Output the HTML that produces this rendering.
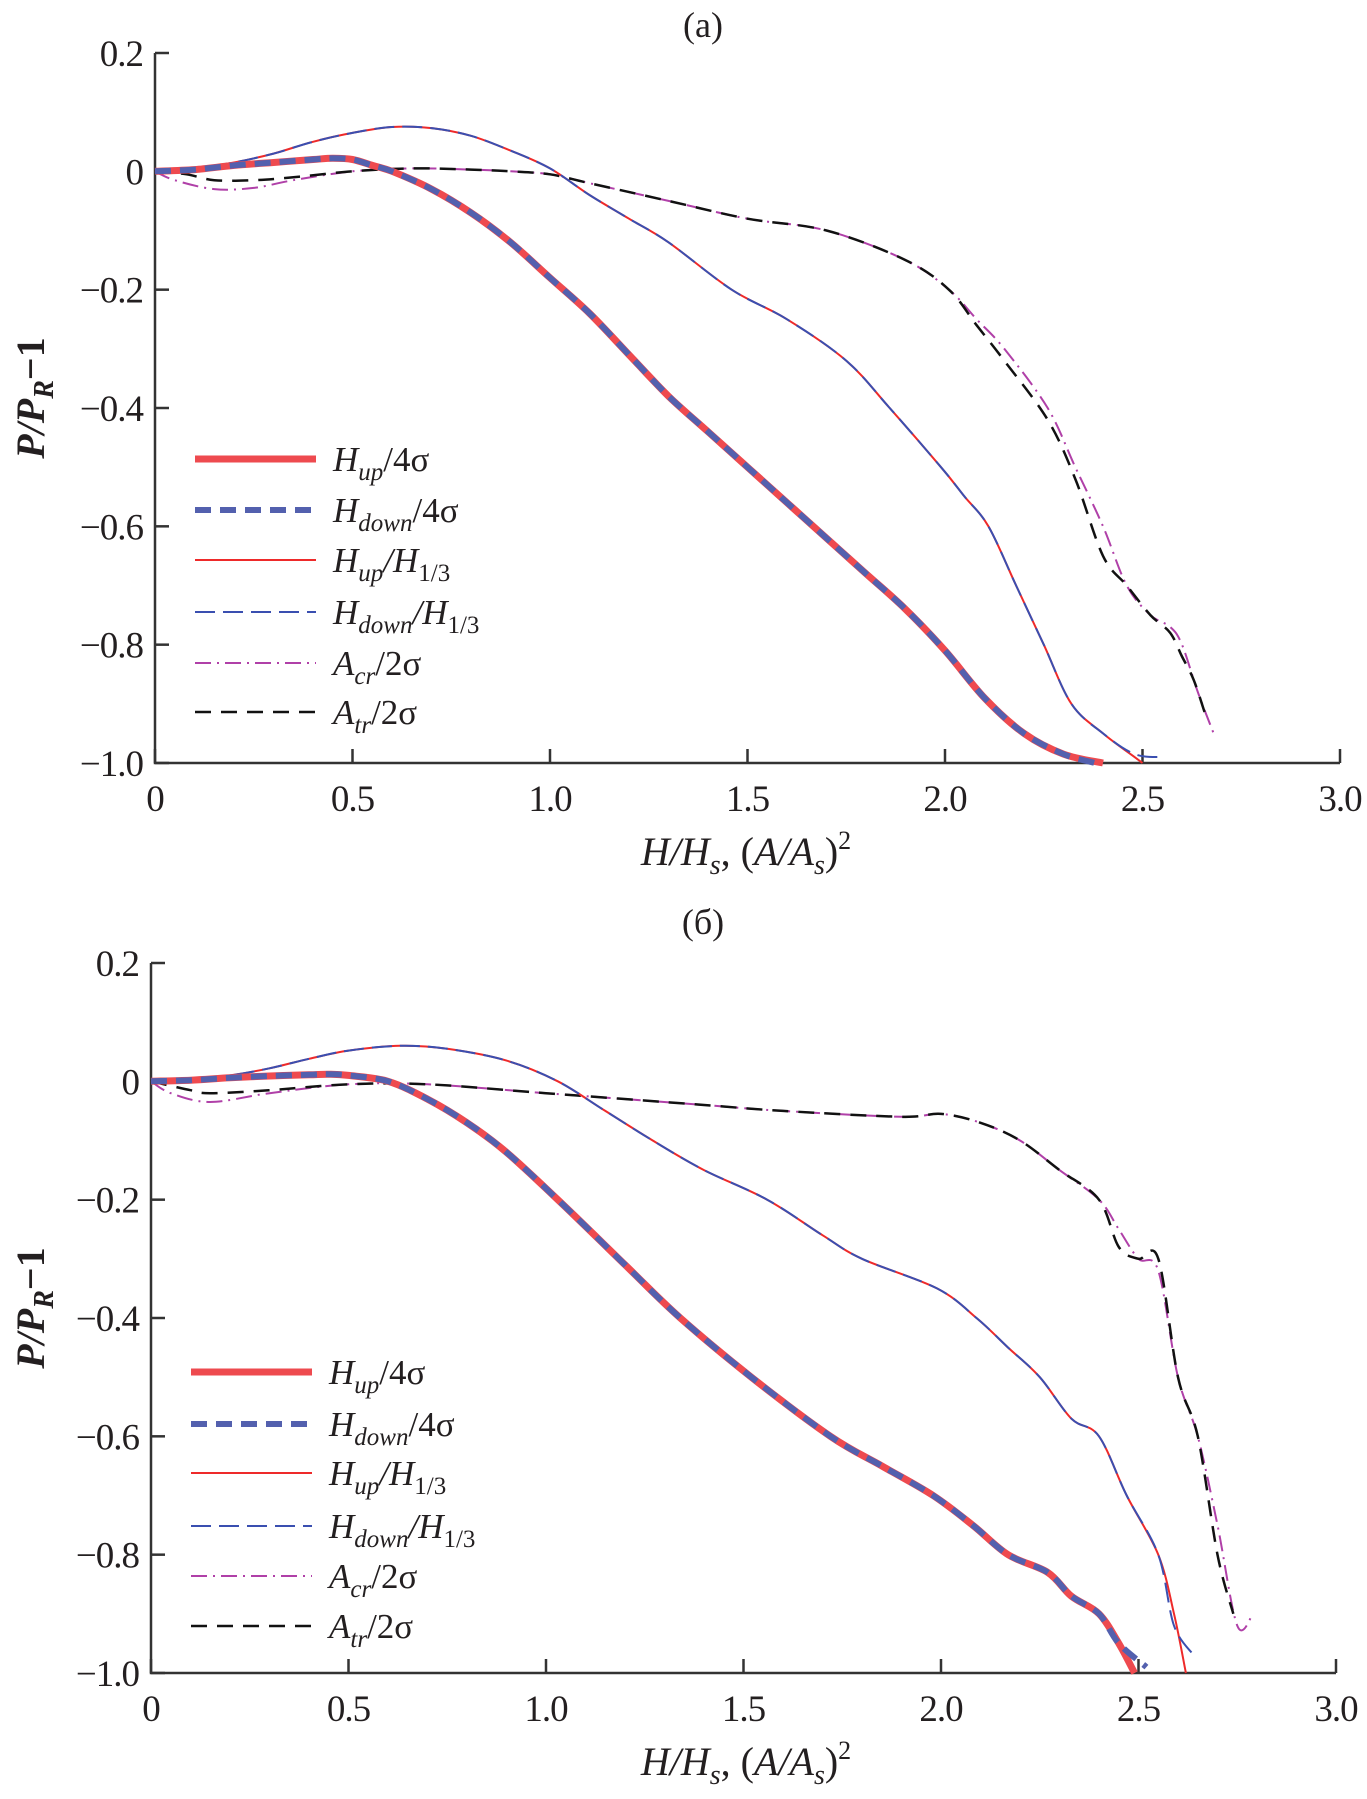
<!DOCTYPE html>
<html><head><meta charset="utf-8"><style>
html,body{margin:0;padding:0;background:#fff;}
svg{display:block;}
text{font-family:"Liberation Serif",serif;fill:#231f20;}
</style></head><body>
<svg id="fig" width="1367" height="1799" viewBox="0 0 1367 1799" xmlns="http://www.w3.org/2000/svg"></svg>
<script>
// ---- Panel (a) data ----
const xTicks = [0,0.5,1.0,1.5,2.0,2.5,3.0];
const xTickLabels = ["0","0.5","1.0","1.5","2.0","2.5","3.0"];
const yTicks = [0.2,0,-0.2,-0.4,-0.6,-0.8,-1.0];
const yTickLabels = ["0.2","0","\u22120.2","\u22120.4","\u22120.6","\u22120.8","\u22121.0"];

const aUp4X   = [0,0.1,0.2,0.3,0.4,0.45,0.5,0.55,0.6,0.7,0.8,0.9,1.0,1.1,1.2,1.3,1.4,1.5,1.6,1.7,1.8,1.9,2.0,2.1,2.2,2.3,2.4];
const aUp4Y   = [0,0.003,0.01,0.015,0.02,0.022,0.02,0.01,0,-0.03,-0.07,-0.12,-0.18,-0.24,-0.31,-0.38,-0.44,-0.5,-0.56,-0.62,-0.68,-0.74,-0.81,-0.89,-0.95,-0.985,-1.0];
const aDown4X = [0,0.1,0.2,0.3,0.4,0.45,0.5,0.55,0.6,0.7,0.8,0.9,1.0,1.1,1.2,1.3,1.4,1.5,1.6,1.7,1.8,1.9,2.0,2.1,2.2,2.3,2.38];
const aDown4Y = [0,0.003,0.01,0.015,0.02,0.022,0.02,0.01,0,-0.03,-0.07,-0.12,-0.18,-0.24,-0.31,-0.38,-0.44,-0.5,-0.56,-0.62,-0.68,-0.74,-0.81,-0.89,-0.95,-0.985,-1.0];
const aUp13X  = [0,0.1,0.2,0.3,0.4,0.5,0.6,0.7,0.8,0.9,1.0,1.1,1.2,1.3,1.46,1.6,1.75,1.86,1.99,2.05,2.11,2.18,2.25,2.32,2.4,2.48,2.5];
const aUp13Y  = [0,0.005,0.015,0.03,0.05,0.065,0.075,0.073,0.06,0.035,0.005,-0.04,-0.08,-0.12,-0.2,-0.25,-0.32,-0.4,-0.5,-0.55,-0.6,-0.7,-0.8,-0.9,-0.95,-0.99,-1.0];
const aDown13X= [0,0.1,0.2,0.3,0.4,0.5,0.6,0.7,0.8,0.9,1.0,1.1,1.2,1.3,1.46,1.6,1.75,1.86,1.99,2.05,2.11,2.18,2.25,2.32,2.4,2.48,2.55];
const aDown13Y= [0,0.005,0.015,0.03,0.05,0.065,0.075,0.073,0.06,0.035,0.005,-0.04,-0.08,-0.12,-0.2,-0.25,-0.32,-0.4,-0.5,-0.55,-0.6,-0.7,-0.8,-0.9,-0.95,-0.985,-0.99];
const aCrX = [0,0.05,0.15,0.25,0.35,0.5,0.65,0.8,0.9,1.0,1.1,1.3,1.5,1.7,1.9,2.01,2.08,2.15,2.26,2.33,2.4,2.46,2.52,2.57,2.6,2.64,2.68];
const aCrY = [0,-0.015,-0.03,-0.028,-0.015,0,0.005,0.003,0,-0.005,-0.02,-0.05,-0.08,-0.1,-0.15,-0.2,-0.25,-0.3,-0.4,-0.5,-0.6,-0.7,-0.75,-0.77,-0.8,-0.88,-0.95];
const aTrX = [0,0.08,0.15,0.25,0.35,0.5,0.65,0.8,0.9,1.0,1.1,1.3,1.5,1.7,1.9,2.01,2.08,2.15,2.26,2.33,2.4,2.46,2.52,2.57,2.6,2.63,2.66];
const aTrY = [0,-0.005,-0.015,-0.015,-0.01,0,0.005,0.003,0,-0.005,-0.02,-0.05,-0.08,-0.1,-0.15,-0.2,-0.26,-0.32,-0.42,-0.52,-0.65,-0.7,-0.75,-0.78,-0.82,-0.86,-0.92];

// ---- Panel (б) data ----
const bUp4X   = [0,0.1,0.2,0.3,0.4,0.45,0.5,0.6,0.7,0.8,0.9,1.03,1.2,1.34,1.52,1.72,1.85,1.98,2.08,2.17,2.27,2.33,2.4,2.45,2.49];
const bUp4Y   = [0,0.002,0.006,0.009,0.011,0.012,0.01,0,-0.03,-0.07,-0.12,-0.2,-0.31,-0.4,-0.5,-0.6,-0.65,-0.7,-0.75,-0.8,-0.83,-0.87,-0.9,-0.95,-1.0];
const bDown4X = [0,0.1,0.2,0.3,0.4,0.45,0.5,0.6,0.7,0.8,0.9,1.03,1.2,1.34,1.52,1.72,1.85,1.98,2.08,2.17,2.27,2.33,2.4,2.45,2.52];
const bDown4Y = [0,0.002,0.006,0.009,0.011,0.012,0.01,0,-0.03,-0.07,-0.12,-0.2,-0.31,-0.4,-0.5,-0.6,-0.65,-0.7,-0.75,-0.8,-0.83,-0.87,-0.9,-0.95,-0.99];
const bUp13X  = [0,0.1,0.2,0.3,0.4,0.5,0.63,0.75,0.9,1.03,1.15,1.27,1.4,1.56,1.7,1.8,1.99,2.09,2.17,2.25,2.33,2.4,2.47,2.55,2.59,2.62];
const bUp13Y  = [0,0.003,0.01,0.022,0.038,0.052,0.06,0.055,0.035,0,-0.05,-0.1,-0.15,-0.2,-0.26,-0.3,-0.35,-0.4,-0.45,-0.5,-0.57,-0.6,-0.7,-0.8,-0.9,-1.0];
const bDown13X= [0,0.1,0.2,0.3,0.4,0.5,0.63,0.75,0.9,1.03,1.15,1.27,1.4,1.56,1.7,1.8,1.99,2.09,2.17,2.25,2.33,2.4,2.47,2.55,2.59,2.64];
const bDown13Y= [0,0.003,0.01,0.022,0.038,0.052,0.06,0.055,0.035,0,-0.05,-0.1,-0.15,-0.2,-0.26,-0.3,-0.35,-0.4,-0.45,-0.5,-0.57,-0.6,-0.7,-0.8,-0.92,-0.97];
const bCrX = [0,0.05,0.15,0.3,0.5,0.7,1.0,1.4,1.6,1.9,2.0,2.1,2.2,2.3,2.4,2.45,2.5,2.55,2.6,2.65,2.7,2.75,2.79];
const bCrY = [0,-0.02,-0.035,-0.02,-0.005,-0.005,-0.02,-0.04,-0.05,-0.06,-0.055,-0.07,-0.1,-0.15,-0.2,-0.25,-0.3,-0.32,-0.5,-0.6,-0.75,-0.92,-0.9];
const bTrX = [0,0.1,0.15,0.3,0.5,0.7,1.0,1.4,1.6,1.9,2.0,2.1,2.2,2.3,2.4,2.45,2.5,2.55,2.6,2.65,2.7,2.74];
const bTrY = [0,-0.015,-0.02,-0.015,-0.005,-0.005,-0.02,-0.04,-0.05,-0.06,-0.055,-0.07,-0.1,-0.15,-0.2,-0.28,-0.3,-0.3,-0.5,-0.6,-0.8,-0.9];

const NS = "http://www.w3.org/2000/svg";
const svg = document.getElementById('fig');
function el(tag, attrs, parent){
  const e = document.createElementNS(NS, tag);
  for (const k in attrs) e.setAttribute(k, attrs[k]);
  (parent||svg).appendChild(e);
  return e;
}
function smoothPath(pts){
  let d = 'M' + pts[0][0].toFixed(1) + ',' + pts[0][1].toFixed(1);
  for (let i = 0; i < pts.length - 1; i++) {
    const p0 = pts[Math.max(0, i-1)], p1 = pts[i], p2 = pts[i+1], p3 = pts[Math.min(pts.length-1, i+2)];
    const c1x = p1[0] + (p2[0]-p0[0])/6, c1y = p1[1] + (p2[1]-p0[1])/6;
    const c2x = p2[0] - (p3[0]-p1[0])/6, c2y = p2[1] - (p3[1]-p1[1])/6;
    d += 'C' + c1x.toFixed(1) + ',' + c1y.toFixed(1) + ' ' + c2x.toFixed(1) + ',' + c2y.toFixed(1) + ' ' + p2[0].toFixed(1) + ',' + p2[1].toFixed(1);
  }
  return d;
}

function panel(cfg){
  const g = el('g', {});
  
  
  const sx = v => cfg.x0 + (v - 0) / 3.0 * (cfg.x1 - cfg.x0);
  const sy = v => cfg.yTop + (0.2 - v) / 1.2 * (cfg.yBot - cfg.yTop);

  const t = el('text', {x: 703, y: cfg.titleY, 'font-size': 36, 'text-anchor': 'middle'}, g);
  t.textContent = cfg.title;
  
  

  const ax = el('path', {d: `M${cfg.x0},${cfg.yTop} L${cfg.x0},${cfg.yBot} L${cfg.x1},${cfg.yBot}`, fill: 'none', stroke: '#333', 'stroke-width': 2.5}, g);
  
  

  for (let i = 0; i < yTicks.length; i++) {
    const y = sy(yTicks[i]);
    el('line', {x1: cfg.x0, x2: cfg.x0 + 14, y1: y, y2: y, stroke: '#333', 'stroke-width': 2.5}, g);
    const tl = el('text', {x: cfg.x0 - 12, y: y + 13, 'font-size': 37, 'text-anchor': 'end', 'letter-spacing': '-1'}, g);
    tl.textContent = yTickLabels[i];
    
    
  }
  for (let i = 0; i < xTicks.length; i++) {
    const x = sx(xTicks[i]);
    el('line', {x1: x, x2: x, y1: cfg.yBot, y2: cfg.yBot - 14, stroke: '#333', 'stroke-width': 2.5}, g);
    const tl = el('text', {x: x, y: cfg.yBot + 48, 'font-size': 37, 'text-anchor': 'middle', 'letter-spacing': '-1'}, g);
    tl.textContent = xTickLabels[i];
    
    
  }

  const xt = el('text', {x: 746, y: cfg.yBot + 102, 'font-size': 40, 'text-anchor': 'middle', 'font-style': 'italic'}, g);
  xt.innerHTML = 'H/H<tspan font-size="28" dy="9">s</tspan><tspan dy="-9" font-style="normal">, (</tspan>A/A<tspan font-size="28" dy="9">s</tspan><tspan dy="-9" font-style="normal">)</tspan><tspan font-size="26" dy="-16" font-style="normal">2</tspan>';
  
  
  const ycy = (cfg.yTop + cfg.yBot) / 2 - 10;
  const yt = el('text', {x: 0, y: 0, 'font-size': 40, 'text-anchor': 'middle', 'font-style': 'italic', 'font-weight': 'bold', transform: `translate(44,${ycy}) rotate(-90)`}, g);
  yt.innerHTML = 'P/P<tspan font-size="28" dy="9">R</tspan><tspan dy="-9" font-style="normal">\u22121</tspan>';
  
  

  function line(xs, ys, style, name){
    const pts = xs.map((x, i) => [sx(x), sy(ys[i])]);
    const p = el('path', Object.assign({d: smoothPath(pts), fill: 'none', 'stroke-linejoin': 'round'}, style), g);
    
    
  }
  const S = {
    up4: {stroke: '#ee4a4f', 'stroke-width': 7},
    down4: {stroke: '#5360ae', 'stroke-width': 6, 'stroke-dasharray': '16 9'},
    up13: {stroke: '#ee2a2a', 'stroke-width': 2},
    down13: {stroke: '#3a4fb0', 'stroke-width': 2, 'stroke-dasharray': '20 8'},
    cr: {stroke: '#b040a8', 'stroke-width': 2, 'stroke-dasharray': '16 6 2 6'},
    tr: {stroke: '#111', 'stroke-width': 2.5, 'stroke-dasharray': '16 10'}
  };
  const D = cfg.data;
  line(D.crX, D.crY, S.cr, 'series-acr-2sigma');
  line(D.trX, D.trY, S.tr, 'series-atr-2sigma');
  line(D.up13X, D.up13Y, S.up13, 'series-hup-h13');
  line(D.down13X, D.down13Y, S.down13, 'series-hdown-h13');
  line(D.up4X, D.up4Y, S.up4, 'series-hup-4sigma');
  line(D.down4X, D.down4Y, S.down4, 'series-hdown-4sigma');

  const lg = el('g', {}, g);
  
  
  const entries = [
    [S.up4, 'H<tspan font-size="25" dy="9">up</tspan><tspan dy="-9" font-style="normal">/4σ</tspan>'],
    [S.down4, 'H<tspan font-size="25" dy="9">down</tspan><tspan dy="-9" font-style="normal">/4σ</tspan>'],
    [S.up13, 'H<tspan font-size="25" dy="9">up</tspan><tspan dy="-9">/H</tspan><tspan font-size="25" dy="9" font-style="normal">1/3</tspan>'],
    [S.down13, 'H<tspan font-size="25" dy="9">down</tspan><tspan dy="-9">/H</tspan><tspan font-size="25" dy="9" font-style="normal">1/3</tspan>'],
    [S.cr, 'A<tspan font-size="25" dy="9">cr</tspan><tspan dy="-9" font-style="normal">/2σ</tspan>'],
    [S.tr, 'A<tspan font-size="25" dy="9">tr</tspan><tspan dy="-9" font-style="normal">/2σ</tspan>']
  ];
  for (let i = 0; i < entries.length; i++) {
    const y = cfg.legY[i];
    const le = el('g', {}, lg);
    
    
    el('line', Object.assign({x1: cfg.legX, x2: cfg.legX + 121, y1: y, y2: y, fill: 'none'}, entries[i][0]), le);
    const tx = el('text', {x: cfg.legX + 138, y: y + 12, 'font-size': 35, 'font-style': 'italic'}, le);
    tx.innerHTML = entries[i][1];
  }
}

panel({name: 'panel-a', title: '(a)', titleY: 37, x0: 155, x1: 1340, yTop: 53, yBot: 763,
  legX: 195, legY: [459,510,560,612,663,712],
  data: {up4X: aUp4X, up4Y: aUp4Y, down4X: aDown4X, down4Y: aDown4Y, up13X: aUp13X, up13Y: aUp13Y,
         down13X: aDown13X, down13Y: aDown13Y, crX: aCrX, crY: aCrY, trX: aTrX, trY: aTrY}});
panel({name: 'panel-b', title: '(б)', titleY: 934, x0: 151, x1: 1336, yTop: 963, yBot: 1673,
  legX: 191, legY: [1372,1424,1473,1526,1576,1626],
  data: {up4X: bUp4X, up4Y: bUp4Y, down4X: bDown4X, down4Y: bDown4Y, up13X: bUp13X, up13Y: bUp13Y,
         down13X: bDown13X, down13Y: bDown13Y, crX: bCrX, crY: bCrY, trX: bTrX, trY: bTrY}});
</script>
</body></html>
